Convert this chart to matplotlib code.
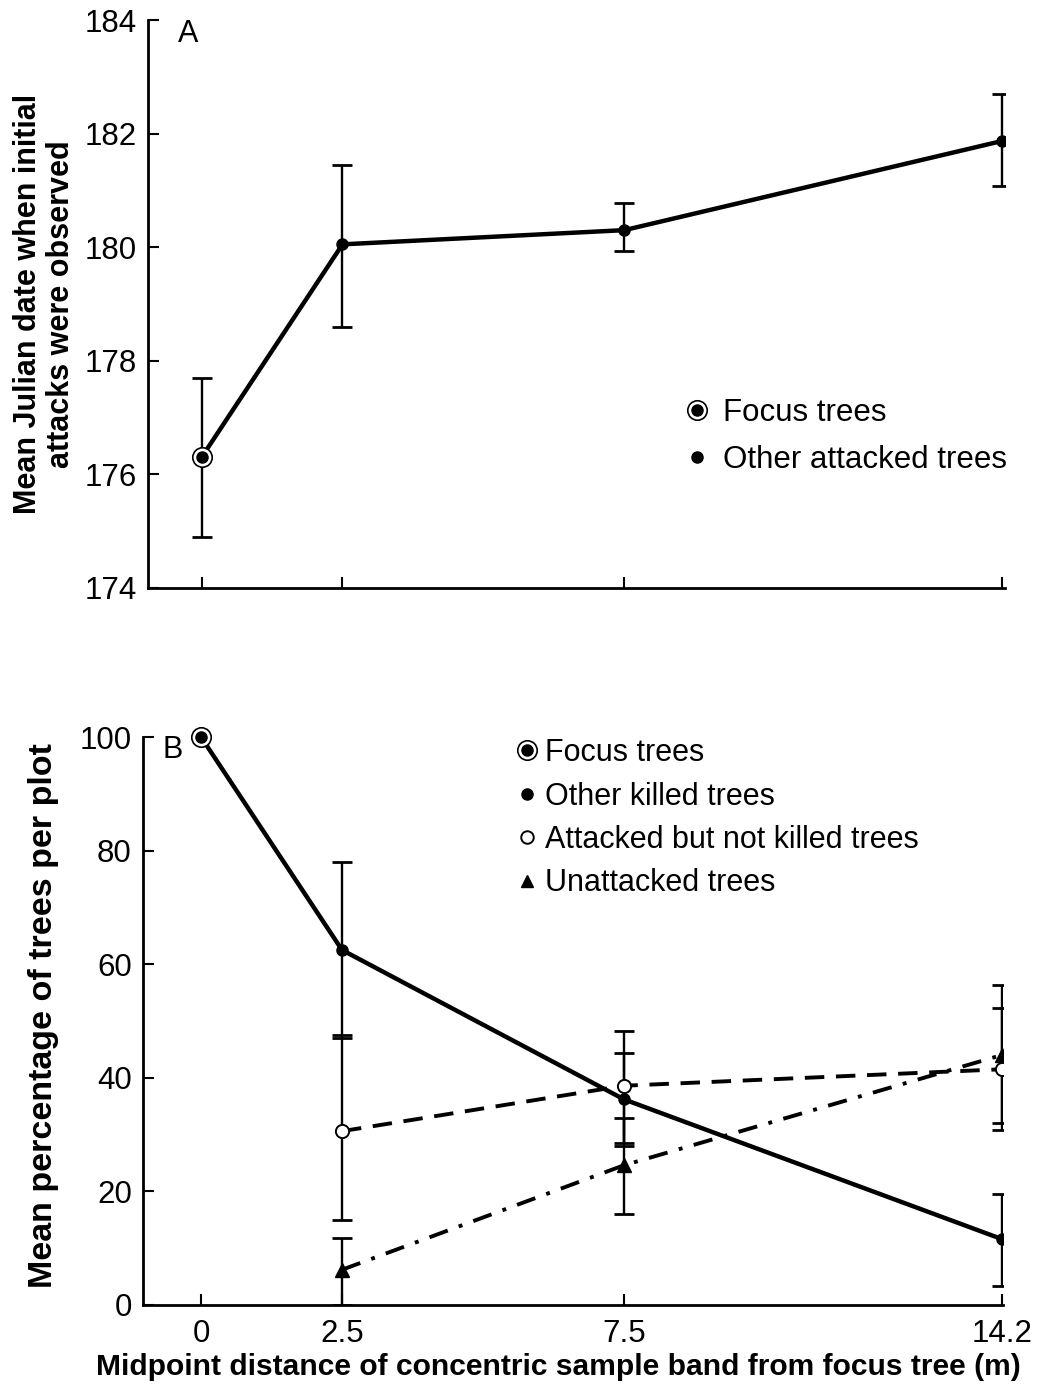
import matplotlib
matplotlib.use("Agg")
import matplotlib.pyplot as plt
from matplotlib.lines import Line2D

plt.rcParams['font.family'] = ['Liberation Sans', 'DejaVu Sans']

# distances (m) of sample bands
dist = [0, 2.5, 7.5, 14.2]
dist_other = [2.5, 7.5, 14.2]
xtick_labels = ['0', '2.5', '7.5', '14.2']

# panel A: mean Julian date of first attack
focus_date = 176.3
focus_date_hi = 177.7
focus_date_lo = 174.9
other_date = [180.05, 180.3, 181.87]
other_date_hi = [181.45, 180.77, 182.7]
other_date_lo = [178.6, 179.93, 181.07]

# panel B: mean percentage of trees per plot
focus_pct = 100
killed_pct = [62.5, 36.2, 11.6]
killed_hi = [78.0, 44.4, 19.5]
killed_lo = [47.0, 28.0, 3.3]
attacked_pct = [30.6, 38.6, 41.5]
attacked_hi = [47.6, 48.3, 52.3]
attacked_lo = [15.0, 28.5, 30.8]
unatt_pct = [6.2, 24.6, 44.0]
unatt_hi = [11.8, 33.0, 56.3]
unatt_lo = [0.0, 16.0, 32.0]


def err(vals, hi, lo):
    return [[v - l for v, l in zip(vals, lo)], [h - v for v, h in zip(vals, hi)]]


def style_axes(ax):
    for s in ['top', 'right']:
        ax.spines[s].set_visible(False)
    for s in ['left', 'bottom']:
        ax.spines[s].set_linewidth(2)
    ax.tick_params(direction='in', length=8, width=1.5, labelsize=22.5, pad=8)


fig = plt.figure(figsize=(10.51, 13.89), dpi=100)
axA = fig.add_axes([0.1408, 0.5767, 0.8154, 0.4089])
axB = fig.add_axes([0.1360, 0.0605, 0.8183, 0.4089])

# ---- panel A
ebkw = dict(ecolor='black', elinewidth=1.7, capsize=7.5, capthick=2, zorder=2)
axA.errorbar([dist[0]], [focus_date],
             yerr=[[focus_date - focus_date_lo], [focus_date_hi - focus_date]],
             fmt='none', **ebkw)
axA.errorbar(dist_other, other_date, yerr=err(other_date, other_date_hi, other_date_lo),
             fmt='none', **ebkw)
axA.plot(dist, [focus_date] + other_date, color='black', lw=3.2, zorder=3)
axA.plot(dist_other, other_date, 'o', color='black', ms=8, zorder=4)
axA.plot([dist[0]], [focus_date], 'o', mfc='white', mec='black', mew=1.2, ms=14, zorder=4)
axA.plot([dist[0]], [focus_date], 'o', color='black', ms=8, zorder=5)

axA.set_xlim(-0.95, 14.25)
axA.set_ylim(174, 184)
axA.set_yticks([174, 176, 178, 180, 182, 184])
axA.set_xticks(dist)
axA.set_xticklabels([])
style_axes(axA)
axA.set_ylabel('Mean Julian date when initial\nattacks were observed',
               fontsize=22, fontweight='bold', linespacing=1.15)
axA.yaxis.set_label_coords(-0.084, 0.5)
axA.text(-0.23, 183.75, 'A', fontsize=22, ha='center', va='center')

ring = Line2D([], [], ls='none', marker='o', mfc='white', mec='black', mew=1.2, ms=14)
dot = Line2D([], [], ls='none', marker='o', color='black', ms=8)
axA.legend([(ring, dot), dot], ['Focus trees', 'Other attacked trees'],
           loc='upper left', bbox_to_anchor=(0.632, 0.334), frameon=False,
           borderpad=0, borderaxespad=0,
           fontsize=22.5, handlelength=0.5, handletextpad=0.57, labelspacing=0.52)

# ---- panel B
axB.errorbar(dist_other, killed_pct, yerr=err(killed_pct, killed_hi, killed_lo), fmt='none', **ebkw)
axB.errorbar(dist_other, attacked_pct, yerr=err(attacked_pct, attacked_hi, attacked_lo), fmt='none', **ebkw)
axB.errorbar(dist_other, unatt_pct, yerr=err(unatt_pct, unatt_hi, unatt_lo), fmt='none', **ebkw)

axB.plot(dist, [focus_pct] + killed_pct, color='black', lw=3.2, zorder=3)
axB.plot(dist_other, attacked_pct, color='black', lw=2.8, ls=(0, (5, 3)), zorder=3)
axB.plot(dist_other, unatt_pct, color='black', lw=2.8, ls=(0, (5, 3, 1, 3)), zorder=3)
axB.plot(dist_other, killed_pct, 'o', color='black', ms=8, zorder=4)
axB.plot(dist_other, attacked_pct, 'o', mfc='white', mec='black', mew=1.4, ms=9.5, zorder=4)
axB.plot(dist_other, unatt_pct, '^', color='black', ms=10, zorder=4)
axB.plot([dist[0]], [focus_pct], 'o', mfc='white', mec='black', mew=1.2, ms=14, zorder=4, clip_on=False)
axB.plot([dist[0]], [focus_pct], 'o', color='black', ms=8, zorder=5, clip_on=False)

axB.set_xlim(-1.03, 14.22)
axB.set_ylim(0, 100)
axB.set_yticks([0, 20, 40, 60, 80, 100])
axB.set_xticks(dist)
axB.set_xticklabels(xtick_labels)
style_axes(axB)
axB.tick_params(axis='x', pad=10)
axB.set_ylabel('Mean percentage of trees per plot', fontsize=24.5, fontweight='bold')
axB.yaxis.set_label_coords(-0.098, 0.51)
axB.set_xlabel('Midpoint distance of concentric sample band from focus tree (m)',
               fontsize=21.6, fontweight='bold')
axB.xaxis.set_label_coords(0.483, -0.084)
axB.text(-0.5, 97.7, 'B', fontsize=22, ha='center', va='center')

oc = Line2D([], [], ls='none', marker='o', mfc='white', mec='black', mew=1.4, ms=9)
tri = Line2D([], [], ls='none', marker='^', color='black', ms=9)
axB.legend([(ring, dot), dot, oc, tri],
           ['Focus trees', 'Other killed trees', 'Attacked but not killed trees', 'Unattacked trees'],
           loc='upper left', bbox_to_anchor=(0.438, 0.998), frameon=False,
           borderpad=0, borderaxespad=0,
           fontsize=22, handlelength=0.5, handletextpad=0.34, labelspacing=0.44)

fig.savefig('out.png', dpi=100)
